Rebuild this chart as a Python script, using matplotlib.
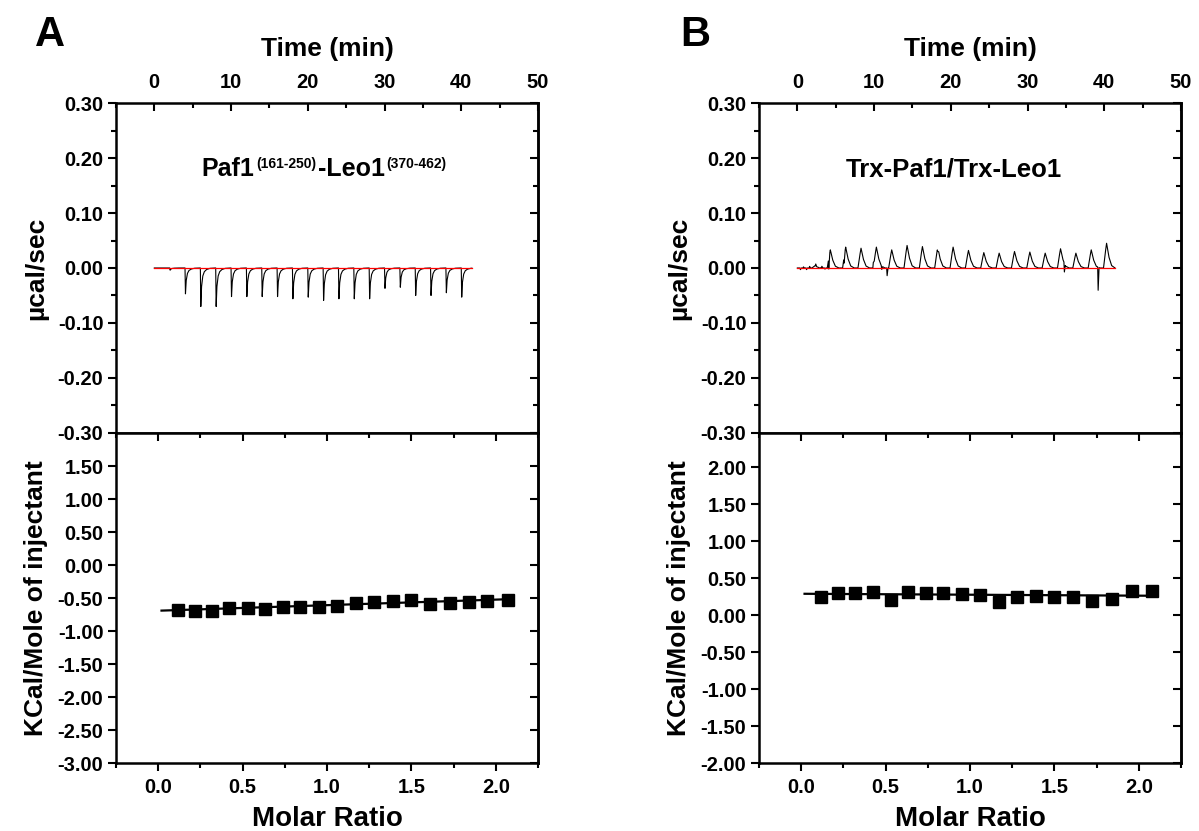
import numpy as np
import matplotlib
matplotlib.use('Agg')
import matplotlib.pyplot as plt
from matplotlib.ticker import MultipleLocator, FixedLocator, FormatStrFormatter, NullFormatter
from matplotlib.offsetbox import TextArea, HPacker, AnchoredOffsetbox

plt.rcParams['font.family'] = ['Liberation Sans', 'DejaVu Sans']
plt.rcParams['font.weight'] = 'bold'
plt.rcParams['axes.labelweight'] = 'bold'
plt.rcParams['axes.unicode_minus'] = False

# ---- raw ITC trace, panel A (injection every 2 min, exothermic spikes)
inj_time_a = [2, 4, 6, 8, 10, 12, 14, 16, 18, 20, 22, 24, 26, 28, 30, 32, 34, 36, 38, 40]
peak_a = [-0.004, -0.047, -0.070, -0.070, -0.052, -0.052, -0.052, -0.052, -0.056, -0.053,
          -0.059, -0.056, -0.056, -0.056, -0.037, -0.035, -0.050, -0.050, -0.045, -0.053]
spike_dt_a = [0, 0.06, 0.15, 0.3, 0.5, 0.8, 1.2, 1.8]
spike_frac_a = [0, 1.0, 0.5, 0.22, 0.1, 0.04, 0.01, 0]

# ---- raw ITC trace, panel B (small endothermic peaks + a few dips)
inj_time_b = [2, 4, 6, 8, 10, 12, 14, 16, 18, 20, 22, 24, 26, 28, 30, 32, 34, 36, 38, 40]
peak_b = [0.004, 0.033, 0.038, 0.036, 0.038, 0.033, 0.041, 0.039, 0.038, 0.038,
          0.032, 0.028, 0.027, 0.030, 0.029, 0.027, 0.035, 0.027, 0.033, 0.045]
spike_dt_b = [-0.1, 0.1, 0.3, 0.6, 0.95, 1.4]
spike_frac_b = [0, 0.55, 1.0, 0.45, 0.1, 0]
dip_time_b = [0.4, 0.8, 1.2, 1.6, 2.4, 2.8, 3.2, 3.6, 4.1, 6.1, 9.9, 11.0, 11.7, 18.3, 34.8, 39.2]
dip_b = [-0.003, 0.002, -0.003, 0.003, 0.004, -0.002, 0.003, -0.002,
         -0.020, -0.012, 0.010, -0.006, -0.014, -0.008, -0.016, -0.042]
trace_end = 41.4

# ---- integrated heats
ratio_a = [0.12, 0.22, 0.32, 0.42, 0.53, 0.63, 0.74, 0.84, 0.95, 1.06,
           1.17, 1.28, 1.39, 1.50, 1.61, 1.73, 1.84, 1.95, 2.07]
heat_a = [-0.675, -0.70, -0.69, -0.65, -0.65, -0.665, -0.63, -0.63, -0.64, -0.625,
          -0.58, -0.56, -0.55, -0.525, -0.585, -0.57, -0.565, -0.545, -0.53]
fit_a_x = [0.02, 2.10]
fit_a_y = [-0.69, -0.515]

ratio_b = [0.12, 0.22, 0.32, 0.425, 0.53, 0.63, 0.74, 0.84, 0.95, 1.06,
           1.17, 1.28, 1.39, 1.50, 1.61, 1.72, 1.84, 1.96, 2.08]
heat_b = [0.248, 0.297, 0.297, 0.306, 0.207, 0.311, 0.293, 0.293, 0.288, 0.27,
          0.18, 0.248, 0.252, 0.243, 0.243, 0.194, 0.216, 0.329, 0.329]
fit_b_x = [0.02, 2.11]
fit_b_y = [0.288, 0.261]

TICK_FS = 14.5


def build_trace(times, heights, dt, frac, dips_t=(), dips=()):
    t = np.arange(0, trace_end, 0.02)
    y = np.zeros_like(t)
    for t0, h in zip(times, heights):
        y += np.interp(t, t0 + np.array(dt), h * np.array(frac), left=0, right=0)
    for t0, v in zip(dips_t, dips):
        y += np.interp(t, [t0 - 0.06, t0, t0 + 0.12], [0, v, 0], left=0, right=0)
    return t, y


def style_ticks(ax):
    for s in ax.spines.values():
        s.set_linewidth(1.8)
    ax.tick_params(which='major', width=1.5, length=6, labelsize=TICK_FS)
    ax.tick_params(which='minor', width=1.5, length=3.5)


def inner_right(ax, major, minor=None):
    sec = ax.secondary_yaxis('right')
    sec.yaxis.set_major_locator(major)
    if minor is not None:
        sec.yaxis.set_minor_locator(minor)
    sec.yaxis.set_major_formatter(NullFormatter())
    sec.tick_params(which='both', direction='in', width=1.5)
    sec.tick_params(which='major', length=6)
    sec.tick_params(which='minor', length=3.5)
    sec.spines['right'].set_linewidth(1.8)


def panel(left, t, y, ratio, heat, fx, fy, ylim_bot, yticks_bot, ystep_bot):
    ax = fig.add_axes([left, 0.479, 0.352, 0.397])
    ax.plot(t, y, color='black', lw=0.8)
    ax.plot([0, trace_end], [0, 0], color='red', lw=0.9)
    ax.set_xlim(-5, 50)
    ax.set_ylim(-0.30, 0.30)
    ax.xaxis.set_ticks_position('top')
    ax.xaxis.set_label_position('top')
    ax.xaxis.set_major_locator(MultipleLocator(10))
    ax.xaxis.set_minor_locator(MultipleLocator(5))
    ax.yaxis.set_major_locator(MultipleLocator(0.1))
    ax.yaxis.set_minor_locator(MultipleLocator(0.05))
    ax.yaxis.set_major_formatter(FormatStrFormatter('%.2f'))
    style_ticks(ax)
    ax.tick_params(axis='x', which='both', direction='in', top=True, bottom=False,
                   labeltop=True, labelbottom=False, pad=8)
    ax.tick_params(axis='y', which='both', direction='out', pad=3)
    ax.set_xlabel('Time (min)', fontsize=19, labelpad=12)
    ax.set_ylabel('µcal/sec', fontsize=19)
    ax.yaxis.set_label_coords(-0.16, 0.5)
    inner_right(ax, MultipleLocator(0.1), MultipleLocator(0.05))

    bx = fig.add_axes([left, 0.0818, 0.352, 0.397])
    bx.plot(fx, fy, color='black', lw=1.6)
    bx.plot(ratio, heat, 's', color='black', markersize=9)
    bx.set_xlim(-0.25, 2.25)
    bx.set_ylim(*ylim_bot)
    bx.xaxis.set_major_locator(MultipleLocator(0.5))
    bx.xaxis.set_minor_locator(MultipleLocator(0.25))
    bx.xaxis.set_major_formatter(FormatStrFormatter('%.1f'))
    bx.yaxis.set_major_locator(FixedLocator(yticks_bot))
    bx.yaxis.set_major_formatter(FormatStrFormatter('%.2f'))
    style_ticks(bx)
    bx.tick_params(axis='x', which='both', direction='out', pad=5)
    bx.tick_params(axis='y', which='both', direction='out', pad=3)
    bx.set_xlabel('Molar Ratio', fontsize=20, labelpad=6)
    bx.set_ylabel('KCal/Mole of injectant', fontsize=19)
    bx.yaxis.set_label_coords(-0.16, 0.5)
    top = bx.secondary_xaxis('top')
    top.xaxis.set_major_locator(MultipleLocator(0.5))
    top.xaxis.set_minor_locator(MultipleLocator(0.25))
    top.xaxis.set_major_formatter(NullFormatter())
    top.tick_params(which='both', direction='in', width=1.5)
    top.tick_params(which='major', length=6)
    top.tick_params(which='minor', length=3.5)
    inner_right(bx, MultipleLocator(ystep_bot))
    return ax, bx


fig = plt.figure(figsize=(11.99, 8.31), dpi=100)

ta, ya = build_trace(inj_time_a, peak_a, spike_dt_a, spike_frac_a)
tb, yb = build_trace(inj_time_b, peak_b, spike_dt_b, spike_frac_b, dip_time_b, dip_b)

ax_a, bx_a = panel(0.0967, ta, ya, ratio_a, heat_a, fit_a_x, fit_a_y,
                   (-3.0, 2.0), np.arange(-3.0, 1.51, 0.5), 0.5)
ax_b, bx_b = panel(0.633, tb, yb, ratio_b, heat_b, fit_b_x, fit_b_y,
                   (-2.0, 2.46), np.arange(-2.0, 2.01, 0.5), 0.5)

# titles inside the raw-data panels
big = dict(fontsize=18, fontweight='bold')
small = dict(fontsize=10, fontweight='bold')
title_a = HPacker(children=[TextArea('Paf1', textprops=big),
                            TextArea('(161-250)', textprops=small),
                            TextArea('-Leo1', textprops=big),
                            TextArea('(370-462)', textprops=small)],
                  align='top', pad=0, sep=1)
ax_a.add_artist(AnchoredOffsetbox(loc='center', child=title_a, pad=0, borderpad=0,
                                  frameon=False, bbox_to_anchor=(0.493, 0.80),
                                  bbox_transform=ax_a.transAxes))
ax_b.text(0.462, 0.80, 'Trx-Paf1/Trx-Leo1', fontsize=18.5, ha='center', va='center',
          transform=ax_b.transAxes)

fig.text(0.029, 0.982, 'A', fontsize=30, va='top', ha='left')
fig.text(0.567, 0.982, 'B', fontsize=30, va='top', ha='left')

fig.savefig('out.png', dpi=100)
